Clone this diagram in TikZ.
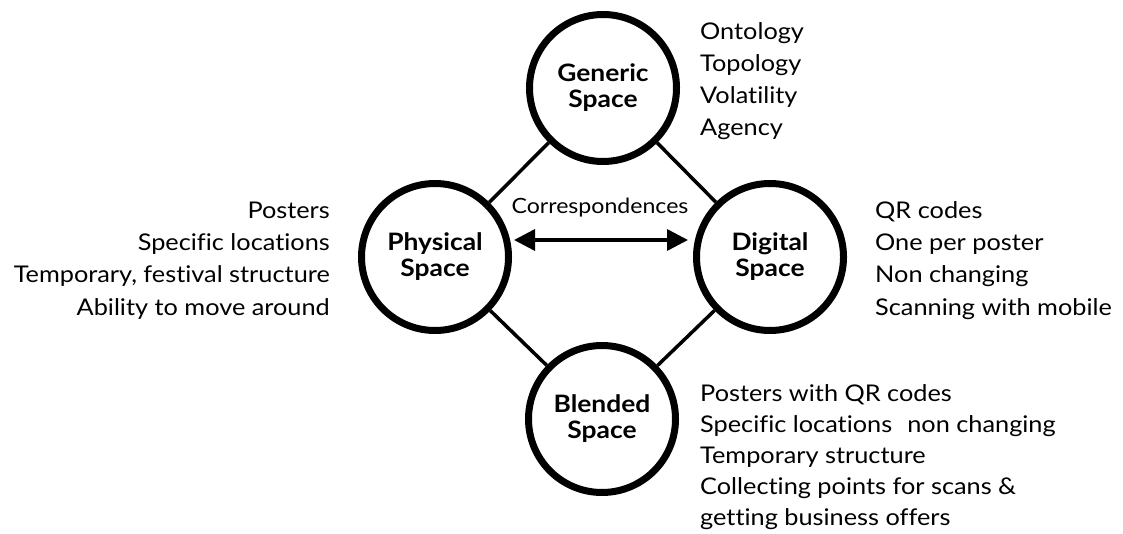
\documentclass[tikz,border=0pt]{standalone}
\usepackage{fontspec}
\setmainfont{Lato}[FakeStretch=1.1,Ligatures=NoCommon,RawFeature=-liga]
\usetikzlibrary{arrows.meta}
\begin{document}
\begin{tikzpicture}[x=1pt,y=-1pt,
  space/.style={circle,draw=black,line width=7pt,minimum size=147pt,inner sep=0pt,
    align=center,font=\bfseries\fontsize{24}{26}\selectfont},
  conn/.style={line width=3.5pt},
  corr/.style={line width=3.5pt,{Triangle[length=21pt,width=21pt]}-{Triangle[length=21pt,width=21pt]}},
  lst/.style={inner sep=0pt,font=\fontsize{23}{26}\selectfont},
  lw/.style={lst,anchor=base west},
  le/.style={lst,anchor=base east}]
\useasboundingbox (0,0) rectangle (1123,534);
\node[space] (gen) at (603,88) {Generic\\Space};
\node[space] (phy) at (435,257) {Physical\\Space};
\node[space] (dig) at (770,257) {Digital\\Space};
\node[space] (bld) at (602,419) {Blended\\Space};
\draw[conn] (gen) -- (phy);
\draw[conn] (gen) -- (dig);
\draw[conn] (phy) -- (bld);
\draw[conn] (dig) -- (bld);
\coordinate (ay) at (600,240);
\draw[corr,shorten <=2pt,shorten >=5pt] (phy.east |- ay) -- (dig.west |- ay);
\node[lst,anchor=base,font=\fontsize{21}{24}\selectfont] (corrlabel) at (600,214) {Correspondences};
% generic list
\foreach \t [count=\i] in {Ontology,Topology,Volatility,Agency}
  \node[lw] (g\i) at (700,8+32*\i) {\t};
% physical list
\foreach \t [count=\i] in {Posters,Specific locations,{Temporary, festival structure},Ability to move around}
  \node[le] (p\i) at (330,186+32.3*\i) {\t};
% digital list
\foreach \t [count=\i] in {QR codes,One per poster,Non changing,Scanning with mobile}
  \node[lw] (d\i) at (875,186+32.3*\i) {\t};
% blended list
\foreach \t [count=\i] in {Posters with QR codes,Specific locations\hspace{15pt}non changing,Temporary structure,Collecting points for scans \&,getting business offers}
  \node[lw] (b\i) at (700,370+31*\i) {\t};
\end{tikzpicture}
\end{document}
